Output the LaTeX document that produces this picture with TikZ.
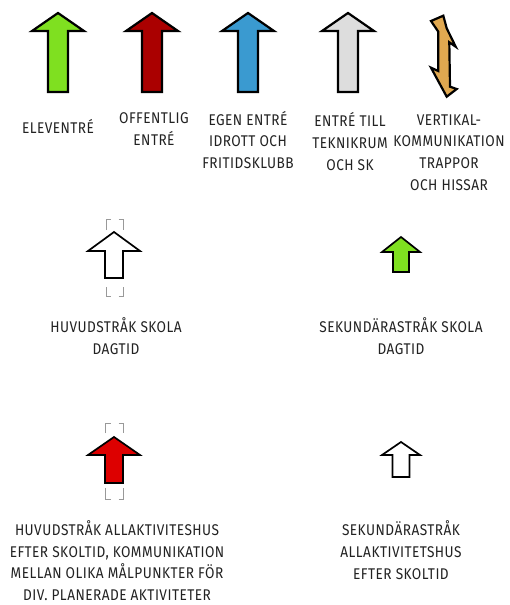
\documentclass[tikz,border=0pt]{standalone}
\usepackage{fontspec}
\setmainfont{Fira Sans}[FakeStretch=0.88,LetterSpace=3]
\definecolor{cgreen}{HTML}{7FE020}
\definecolor{cdred}{HTML}{AA0000}
\definecolor{cblue}{HTML}{3A9AD0}
\definecolor{cgray}{HTML}{DDDDDD}
\definecolor{corange}{HTML}{E0A850}
\definecolor{cred}{HTML}{DD0000}
\definecolor{ctext}{HTML}{222222}
\definecolor{cdash}{HTML}{999999}
% x, tip y, head base y, bottom y, head half width, shaft half width
\newcommand\uparrowshape[7][]{%
  \draw[#1] (#2,#3) -- (#2+#6,#4) -- (#2+#7,#4) -- (#2+#7,#5) -- (#2-#7,#5)
    -- (#2-#7,#4) -- (#2-#6,#4) -- cycle;}
\begin{document}
\begin{tikzpicture}[x=1pt,y=-1pt,
  arr/.style={draw=black,line width=2.2pt,line join=miter},
  sarr/.style={draw=black,line width=1.7pt,line join=miter},
  lbl/.style={inner sep=0pt,align=center,text=ctext,font=\fontsize{15.5}{21.7}\selectfont},
  brk/.style={draw=cdash,line width=0.8pt}]
\useasboundingbox (0,0) rectangle (509,605);
% top row arrows
\uparrowshape[arr,fill=cgreen]{58}{13}{31}{92}{26}{10}
\uparrowshape[arr,fill=cdred]{152}{13}{31}{92}{26}{10}
\uparrowshape[arr,fill=cblue]{248}{13}{31}{92}{26}{10}
\uparrowshape[arr,fill=cgray]{348}{13}{31}{92}{26}{10}
\draw[arr,fill=corange] (431,21) -- (443.3,15.7) -- (446.7,28.3) -- (455.7,46.7)
  -- (449.3,42.3) -- (450,86.7) -- (456.7,89) -- (446.7,96.7) -- (431,67.7)
  -- (438.3,71) -- (438.3,31.7) -- cycle;
% labels top row
\node[lbl] (t1) at (58,126) {ELEVENTRÉ};
\node[lbl] (t2) at (154,129) {OFFENTLIG\\ENTRÉ};
\node[lbl] (t3) at (248,140) {EGEN ENTRÉ\\IDROTT OCH\\FRITIDSKLUBB};
\node[lbl] (t4) at (350,141.5) {ENTRÉ TILL\\TEKNIKRUM\\OCH SK};
\node[lbl] (t5) at (449,152.5) {VERTIKAL-\\KOMMUNIKATION\\TRAPPOR\\OCH HISSAR};
% middle row
\draw[brk] (106,230) -- (106,219) -- (110.5,219);
\draw[brk] (118.5,219) -- (123,219) -- (123,230);
\draw[brk] (106,287) -- (106,296) -- (110.5,296);
\draw[brk] (118.5,296) -- (123,296) -- (123,287);
\uparrowshape[sarr,fill=white]{114}{232}{251}{278}{26}{9}
\uparrowshape[sarr,fill=cgreen]{401}{237}{252}{272}{19}{8}
\node[lbl] (t6) at (116,336) {HUVUDSTRÅK SKOLA\\DAGTID};
\node[lbl] (t7) at (401,336) {SEKUNDÄRASTRÅK SKOLA\\DAGTID};
% bottom row
\draw[brk] (105.5,433) -- (105.5,423) -- (110.5,423);
\draw[brk] (118.5,423) -- (123,423) -- (123,433);
\draw[brk] (105.5,488) -- (105.5,499) -- (110.5,499);
\draw[brk] (118.5,499) -- (123,499) -- (123,488);
\uparrowshape[sarr,fill=cred]{114}{437}{455}{483}{26}{9}
\uparrowshape[sarr,fill=white]{401}{442}{455}{477}{19}{8.5}
\node[lbl] (t8) at (117,560.5) {HUVUDSTRÅK ALLAKTIVITESHUS\\EFTER SKOLTID, KOMMUNIKATION\\MELLAN OLIKA MÅLPUNKTER FÖR\\DIV. PLANERADE AKTIVITETER};
\node[lbl] (t9) at (401,550) {SEKUNDÄRASTRÅK\\ALLAKTIVITETSHUS\\EFTER SKOLTID};
\end{tikzpicture}
\end{document}
